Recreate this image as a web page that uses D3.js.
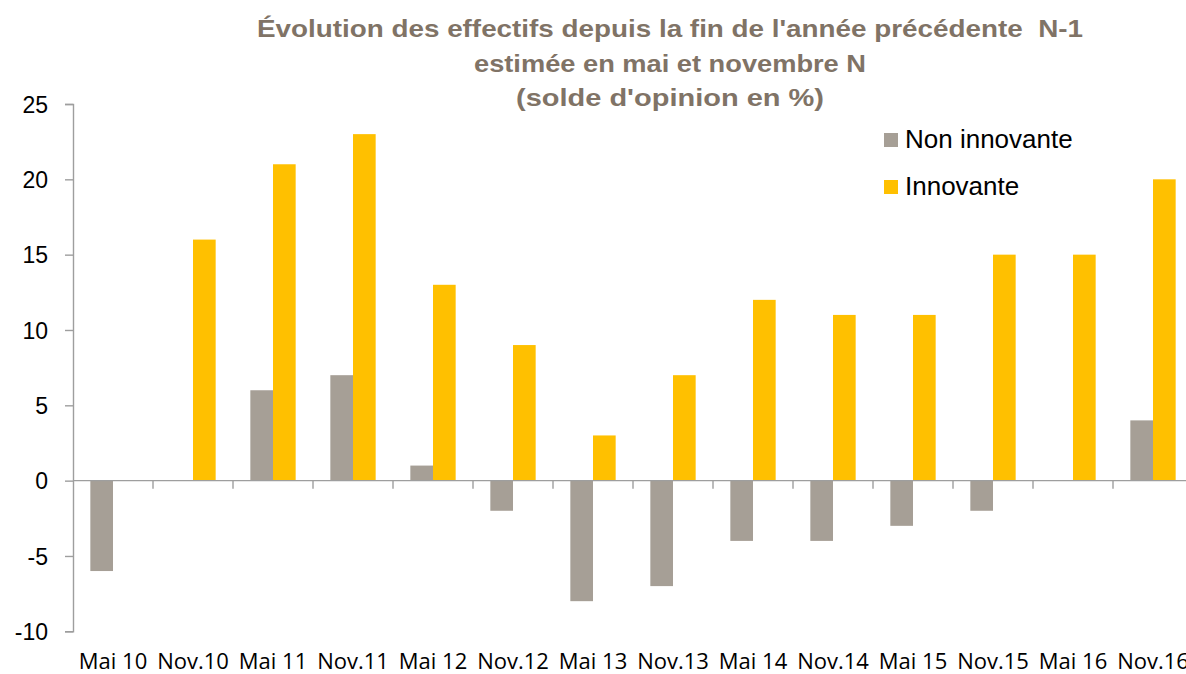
<!DOCTYPE html>
<html><head><meta charset="utf-8">
<script src="https://cdn.jsdelivr.net/npm/d3@7"></script>
<style>html,body{margin:0;padding:0;background:#fff;overflow:hidden}</style>
</head><body><svg id="c" width="1186" height="674"></svg>
<script>
const categories = ["Mai 10","Nov.10","Mai 11","Nov.11","Mai 12","Nov.12","Mai 13","Nov.13","Mai 14","Nov.14","Mai 15","Nov.15","Mai 16","Nov.16"];
const seriesNames = ["Non innovante","Innovante"];
const nonInnovante = [-6,0,6,7,1,-2,-8,-7,-4,-4,-3,-2,0,4];
const innovante = [0,16,21,23,13,9,3,7,12,11,11,15,15,20];
const yTicks = [-10,-5,0,5,10,15,20,25];
const titleLines = ["Évolution des effectifs depuis la fin de l'année précédente\u00A0 N-1","estimée en mai et novembre N","(solde d'opinion en %)"];
const colors = ["#A69F96","#FFC000"];

const svg = d3.select("#c");
const pL = 73, pR = 1193, pT = 104, pB = 631.3;
const x0 = d3.scaleBand().domain(categories).range([pL,pR]).padding(0);
const bw = x0.bandwidth();
const x1 = d3.scaleBand().domain(seriesNames).range([bw*0.2167, bw*0.7833]).padding(0);
const y = d3.scaleLinear().domain([-10,25]).range([pB,pT]);

const data = categories.map((c,i)=>({cat:c, vals:[{s:seriesNames[0],v:nonInnovante[i]},{s:seriesNames[1],v:innovante[i]}]}));

const g = svg.append("g");
g.selectAll("g.cat").data(data).join("g").attr("transform",d=>`translate(${x0(d.cat)},0)`)
 .selectAll("rect").data(d=>d.vals.filter(e=>e.v!==0)).join("rect")
 .attr("x",d=>x1(d.s)).attr("width",x1.bandwidth())
 .attr("y",d=>y(Math.max(0,d.v))).attr("height",d=>Math.abs(y(d.v)-y(0)))
 .attr("fill",(d)=>colors[seriesNames.indexOf(d.s)]);

const axisColor = "#9E9E9E";
const yAxis = d3.axisLeft(y).tickValues(yTicks).tickSize(8).tickFormat(d=>String(d));
const ya = svg.append("g").attr("transform",`translate(${pL},0)`).call(yAxis);
ya.select(".domain").attr("stroke",axisColor).attr("stroke-width",1.4);
ya.selectAll(".tick line").attr("stroke",axisColor).attr("stroke-width",1.4);
ya.selectAll(".tick text").attr("x",-25).attr("dy","0.36em").attr("font-family","'Liberation Sans', Arial, sans-serif").attr("font-size",23).attr("fill","#000");

svg.append("line").attr("x1",pL).attr("x2",pR).attr("y1",y(0)).attr("y2",y(0)).attr("stroke",axisColor).attr("stroke-width",1.4);
svg.append("g").selectAll("line").data(categories.slice(1)).join("line")
 .attr("x1",d=>x0(d)).attr("x2",d=>x0(d)).attr("y1",y(0)).attr("y2",y(0)+8)
 .attr("stroke",axisColor).attr("stroke-width",1.4);
svg.append("g").selectAll("text").data(categories).join("text")
 .attr("x",d=>x0(d)+bw/2).attr("y",669).attr("text-anchor","middle")
 .attr("font-family","'Open Sans', sans-serif").attr("font-size",22).attr("fill","#000").text(d=>d);

const tl = svg.append("g");
const tY = [37,72,106];
const tW = [826,392,308];
titleLines.forEach((t,i)=>{
  tl.append("text").attr("x",670).attr("y",tY[i]).attr("text-anchor","middle")
   .attr("font-family","'Liberation Sans', Arial, sans-serif")
   .attr("font-weight","bold").attr("font-size",24).attr("fill","#807366")
   .attr("textLength",tW[i]).attr("lengthAdjust","spacingAndGlyphs").text(t);
});

const lg = svg.append("g");
seriesNames.forEach((s,i)=>{
  const yy = 133 + i*47;
  lg.append("rect").attr("x",884).attr("y",yy).attr("width",14).attr("height",14).attr("fill",colors[i]);
  lg.append("text").attr("x",905).attr("y",yy+14.5).attr("font-family","'Liberation Sans', Arial, sans-serif")
   .attr("font-size",26).attr("fill","#000").text(s);
});
</script></body></html>
